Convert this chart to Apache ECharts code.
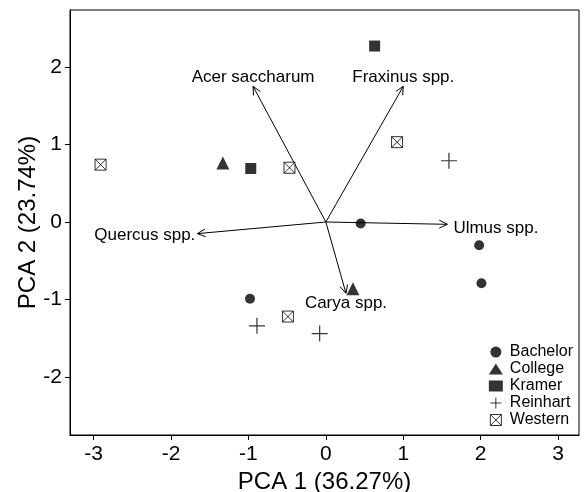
<!DOCTYPE html>
<html>
<head>
<meta charset="utf-8">
<script src="https://cdn.jsdelivr.net/npm/echarts@6/dist/echarts.min.js"></script>
<style>
  html, body { margin: 0; padding: 0; background: #fff; }
  #pca { width: 585px; height: 492px; }
</style>
</head>
<body>
<div id="pca"></div>
<script>
// site scores
var bachelorX = [0.45, 1.98, 2.01, -0.98];
var bachelorY = [-0.02, -0.30, -0.79, -0.99];
var collegeX = [-1.33, 0.35];
var collegeY = [0.76, -0.86];
var kramerX = [-0.97, 0.63];
var kramerY = [0.69, 2.27];
var reinhartX = [-0.89, -0.08, 1.59];
var reinhartY = [-1.34, -1.44, 0.79];
var westernX = [-2.91, -0.47, 0.92, -0.49];
var westernY = [0.74, 0.70, 1.03, -1.22];

// species loadings
var speciesNames = ["Acer saccharum", "Fraxinus spp.", "Quercus spp.", "Ulmus spp.", "Carya spp."];
var loadPc1 = [-0.94, 1.00, -1.66, 1.57, 0.26];
var loadPc2 = [1.75, 1.75, -0.15, -0.03, -0.92];
var labelSide = ["top", "top", "left", "right", "bottom"];

var siteNames = ["Bachelor", "College", "Kramer", "Reinhart", "Western"];
var tickValsX = [-3, -2, -1, 0, 1, 2, 3];
var tickValsY = [-2, -1, 0, 1, 2];

var FONT = "Liberation Sans, Arial, sans-serif";

function pairs(xs, ys) {
    return xs.map(function (x, i) { return [x, ys[i]]; });
}

var plusPath = "path://M0,5 L10,5 M5,0 L5,10";
var boxXPath = "path://M0,0 L10,0 L10,10 L0,10 Z M0,0 L10,10 M10,0 L0,10";

var myChart = echarts.init(document.getElementById("pca"));

var labelPlace = {
    top: { dx: 0, dy: -1, align: "center", va: "bottom" },
    bottom: { dx: 0, dy: 2, align: "center", va: "top" },
    left: { dx: -2, dy: 2, align: "right", va: "middle" },
    right: { dx: 6, dy: 4, align: "left", va: "middle" }
};

function drawArrow(params, api) {
    var o = api.coord([0, 0]);
    var p = api.coord([api.value(0), api.value(1)]);
    var ang = Math.atan2(p[1] - o[1], p[0] - o[0]);
    var len = 9, spread = Math.PI / 7;
    var a1 = [p[0] - len * Math.cos(ang - spread), p[1] - len * Math.sin(ang - spread)];
    var a2 = [p[0] - len * Math.cos(ang + spread), p[1] - len * Math.sin(ang + spread)];
    var lp = labelPlace[labelSide[params.dataIndex]];
    return {
        type: "group",
        children: [
            { type: "line", shape: { x1: o[0], y1: o[1], x2: p[0], y2: p[1] },
              style: { stroke: "#000", lineWidth: 1 } },
            { type: "polyline", shape: { points: [a1, p, a2] },
              style: { stroke: "#000", fill: null, lineWidth: 1 } },
            { type: "text", x: p[0] + lp.dx, y: p[1] + lp.dy,
              style: { text: speciesNames[params.dataIndex], fill: "#000",
                       font: "17px " + FONT, align: lp.align, verticalAlign: lp.va } }
        ]
    };
}

var option = {
    animation: false,
    textStyle: { fontFamily: FONT },
    grid: { left: 70, right: 6, top: 10, bottom: 57, show: true, borderColor: "#000", borderWidth: 1,
            outerBoundsMode: "none", containLabel: false },
    xAxis: {
        type: "value", min: -3.305, max: 3.27,
        name: "PCA 1 (36.27%)", nameLocation: "middle", nameGap: 35, nameMoveOverlap: false,
        nameTextStyle: { fontSize: 24, color: "#000" },
        axisLine: { show: true, onZero: false, lineStyle: { color: "#000" } },
        axisTick: { show: true, length: 5, customValues: tickValsX, lineStyle: { color: "#000" } },
        axisLabel: { customValues: tickValsX, fontSize: 21, color: "#000", margin: 9 },
        splitLine: { show: false }
    },
    yAxis: {
        type: "value", min: -2.748, max: 2.735,
        name: "PCA 2 (23.74%)", nameLocation: "middle", nameGap: 30, nameMoveOverlap: false,
        nameTextStyle: { fontSize: 24, color: "#000" },
        axisLine: { show: true, onZero: false, lineStyle: { color: "#000" } },
        axisTick: { show: true, length: 5, customValues: tickValsY, lineStyle: { color: "#000" } },
        axisLabel: { customValues: tickValsY, fontSize: 21, color: "#000", margin: 8 },
        splitLine: { show: false }
    },
    legend: {
        data: siteNames,
        orient: "vertical",
        right: 12, top: 344,
        padding: 0,
        itemWidth: 14, itemHeight: 11, itemGap: 1,
        align: "left",
        textStyle: { fontSize: 16, color: "#000", padding: [0, 0, 0, 2] },
        itemStyle: { borderWidth: 1 }
    },
    series: [
        { type: "custom", coordinateSystem: "cartesian2d", renderItem: drawArrow,
          data: pairs(loadPc1, loadPc2), clip: false, z: 1, silent: true },
        { name: "Bachelor", type: "scatter", symbol: "circle", symbolSize: 10,
          itemStyle: { color: "#000" }, data: pairs(bachelorX, bachelorY), z: 3 },
        { name: "College", type: "scatter", symbol: "triangle", symbolSize: 13,
          itemStyle: { color: "#000" }, data: pairs(collegeX, collegeY), z: 3 },
        { name: "Kramer", type: "scatter", symbol: "rect", symbolSize: 11,
          itemStyle: { color: "#000" }, data: pairs(kramerX, kramerY), z: 3 },
        { name: "Reinhart", type: "scatter", symbol: plusPath, symbolSize: 16,
          itemStyle: { color: "transparent", borderColor: "#000", borderWidth: 1.2 },
          data: pairs(reinhartX, reinhartY), z: 3 },
        { name: "Western", type: "scatter", symbol: boxXPath, symbolSize: 11,
          itemStyle: { color: "#fff", borderColor: "#000", borderWidth: 1 },
          data: pairs(westernX, westernY), z: 3 }
    ]
};

myChart.setOption(option);
</script>
</body>
</html>
